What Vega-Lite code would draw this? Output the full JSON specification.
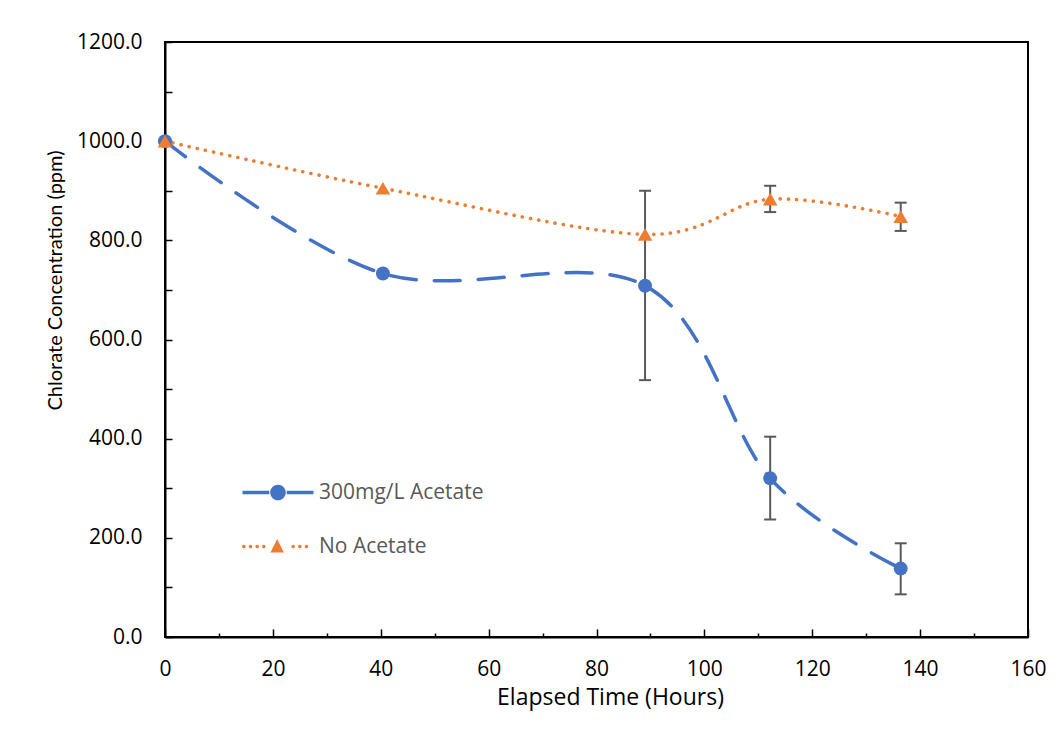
{
  "$schema": "https://vega.github.io/schema/vega-lite/v6.json",
  "width": 863,
  "height": 595,
  "autosize": {"type": "none"},
  "padding": {"left": 165, "top": 42, "right": 34, "bottom": 92},
  "background": "white",
  "config": {
    "view": {"stroke": "#000", "strokeWidth": 2},
    "axis": {
      "domainColor": "#000", "domainWidth": 2, "tickColor": "#000", "tickWidth": 1.5, "grid": false,
      "labelFont": "Open Sans", "labelFontSize": 21, "labelColor": "#000",
      "titleFont": "Open Sans", "titleFontWeight": "normal", "titleColor": "#000"
    },
    "legend": {
      "orient": "none", "legendX": 77, "legendY": 440, "padding": 0,
      "symbolSize": 400, "symbolStrokeWidth": 0, "symbolOpacity": 1,
      "labelOffset": 56, "labelFont": "Open Sans", "labelFontSize": 21, "labelColor": "#595959",
      "rowPadding": 32, "labelLimit": 400
    }
  },
  "resolve": {"axis": {"x": "independent"}},
  "datasets": {
    "pts": [
      {"series": "300mg/L Acetate", "hours": 0, "conc": 1000},
      {"series": "300mg/L Acetate", "hours": 40.4, "conc": 733},
      {"series": "300mg/L Acetate", "hours": 89, "conc": 708.5},
      {"series": "300mg/L Acetate", "hours": 112.2, "conc": 320},
      {"series": "300mg/L Acetate", "hours": 136.4, "conc": 138},
      {"series": "No Acetate", "hours": 0, "conc": 1000},
      {"series": "No Acetate", "hours": 40.4, "conc": 905},
      {"series": "No Acetate", "hours": 89, "conc": 812},
      {"series": "No Acetate", "hours": 112.2, "conc": 883},
      {"series": "No Acetate", "hours": 136.4, "conc": 848}
    ],
    "errs": [
      {"series": "300mg/L Acetate", "hours": 89, "lo": 518, "hi": 900},
      {"series": "300mg/L Acetate", "hours": 112.2, "lo": 237, "hi": 404},
      {"series": "300mg/L Acetate", "hours": 136.4, "lo": 86, "hi": 189},
      {"series": "No Acetate", "hours": 112.2, "lo": 857, "hi": 910},
      {"series": "No Acetate", "hours": 136.4, "lo": 819, "hi": 876}
    ]
  },
  "layer": [
    {
      "data": {"name": "pts"},
      "transform": [{"filter": "datum.series === '300mg/L Acetate'"}],
      "mark": {"type": "line", "interpolate": "cardinal", "color": "#4472C4", "strokeWidth": 3.5, "strokeDash": [26, 18], "strokeCap": "round"},
      "encoding": {
        "x": {
          "field": "hours", "type": "quantitative", "title": "Elapsed Time (Hours)",
          "scale": {"domain": [0, 160], "nice": false, "zero": false},
          "axis": {
            "orient": "bottom",
            "values": [0, 20, 40, 60, 80, 100, 120, 140, 160],
            "tickSize": -8, "labelPadding": 29, "labelFlush": false, "labelOverlap": false,
            "titleFontSize": 23,
            "titleX": 445, "titleY": 67, "titleBaseline": "alphabetic", "titleAlign": "center"
          }
        },
        "y": {
          "field": "conc", "type": "quantitative", "title": "Chlorate Concentration (ppm)",
          "scale": {"domain": [0, 1200], "nice": false},
          "axis": {
            "values": [0, 100, 200, 300, 400, 500, 600, 700, 800, 900, 1000, 1100, 1200],
            "labelExpr": "datum.value % 200 === 0 ? format(datum.value, '.1f') : ''",
            "tickSize": -7, "labelPadding": 30, "labelFlush": false, "labelOverlap": false,
            "titleFont": "Lato", "titleFontSize": 20,
            "titleX": -104, "titleY": 238, "titleBaseline": "alphabetic", "titleAlign": "center", "titleAngle": -90
          }
        }
      }
    },
    {
      "data": {"name": "pts"},
      "transform": [{"filter": "datum.series === 'No Acetate'"}],
      "mark": {"type": "line", "interpolate": "cardinal", "color": "#ED7D31", "strokeWidth": 3.6, "strokeDash": [0.1, 8.2], "strokeCap": "round"},
      "encoding": {
        "x": {
          "field": "hours", "type": "quantitative",
          "axis": {
            "orient": "bottom", "values": [10, 30, 50, 70, 90, 110, 130, 150],
            "tickSize": -4, "labels": false, "domain": false, "title": null
          }
        },
        "y": {"field": "conc", "type": "quantitative", "title": "Chlorate Concentration (ppm)"}
      }
    },
    {
      "data": {"name": "errs"},
      "mark": {"type": "rule", "color": "#595959", "strokeWidth": 2},
      "encoding": {
        "x": {"field": "hours", "type": "quantitative", "axis": null},
        "y": {"field": "lo", "type": "quantitative", "title": "Chlorate Concentration (ppm)"},
        "y2": {"field": "hi", "title": "Chlorate Concentration (ppm)"}
      }
    },
    {
      "data": {"name": "errs"},
      "mark": {"type": "tick", "orient": "horizontal", "color": "#595959", "size": 12, "thickness": 2, "opacity": 1},
      "encoding": {
        "x": {"field": "hours", "type": "quantitative", "axis": null},
        "y": {"field": "lo", "type": "quantitative", "title": "Chlorate Concentration (ppm)"}
      }
    },
    {
      "data": {"name": "errs"},
      "mark": {"type": "tick", "orient": "horizontal", "color": "#595959", "size": 12, "thickness": 2, "opacity": 1},
      "encoding": {
        "x": {"field": "hours", "type": "quantitative", "axis": null},
        "y": {"field": "hi", "type": "quantitative", "title": "Chlorate Concentration (ppm)"}
      }
    },
    {
      "data": {"name": "pts"},
      "transform": [{"filter": "datum.series === '300mg/L Acetate'"}],
      "mark": {"type": "point", "shape": "circle", "filled": true, "size": 195, "opacity": 1, "strokeWidth": 0},
      "encoding": {
        "x": {"field": "hours", "type": "quantitative", "axis": null},
        "y": {"field": "conc", "type": "quantitative", "title": "Chlorate Concentration (ppm)"},
        "color": {
          "field": "series", "type": "nominal",
          "scale": {"domain": ["300mg/L Acetate", "No Acetate"], "range": ["#4472C4", "#ED7D31"]},
          "legend": {
            "title": null,
            "encode": {
              "symbols": {
                "update": {
                  "shape": {"signal": "datum.value === '300mg/L Acetate' ? 'M-1,-0.17H1.68V0.17H-1Z M3.42,-0.17H6.1V0.17H3.42Z M1.77,0A0.78,0.78 0 1,1 3.33,0A0.78,0.78 0 1,1 1.77,0Z' : 'M-1.05,0A0.18,0.18 0 1,1 -0.69,0A0.18,0.18 0 1,1 -1.05,0Z M-0.38,0A0.18,0.18 0 1,1 -0.02,0A0.18,0.18 0 1,1 -0.38,0Z M0.29,0A0.18,0.18 0 1,1 0.65,0A0.18,0.18 0 1,1 0.29,0Z M0.95,0A0.18,0.18 0 1,1 1.31,0A0.18,0.18 0 1,1 0.95,0Z M2.47,-0.75L3.14,0.6L1.8,0.6Z M3.89,0A0.18,0.18 0 1,1 4.25,0A0.18,0.18 0 1,1 3.89,0Z M4.55,0A0.18,0.18 0 1,1 4.91,0A0.18,0.18 0 1,1 4.55,0Z M5.22,0A0.18,0.18 0 1,1 5.58,0A0.18,0.18 0 1,1 5.22,0Z'"},
                  "size": {"value": 400},
                  "strokeWidth": {"value": 0}
                }
              }
            }
          }
        }
      }
    },
    {
      "data": {"name": "pts"},
      "transform": [{"filter": "datum.series === 'No Acetate'"}],
      "mark": {"type": "point", "shape": "triangle-up", "filled": true, "size": 215, "opacity": 1, "strokeWidth": 0},
      "encoding": {
        "x": {"field": "hours", "type": "quantitative", "axis": null},
        "y": {"field": "conc", "type": "quantitative", "title": "Chlorate Concentration (ppm)"},
        "color": {"field": "series", "type": "nominal"}
      }
    }
  ]
}
